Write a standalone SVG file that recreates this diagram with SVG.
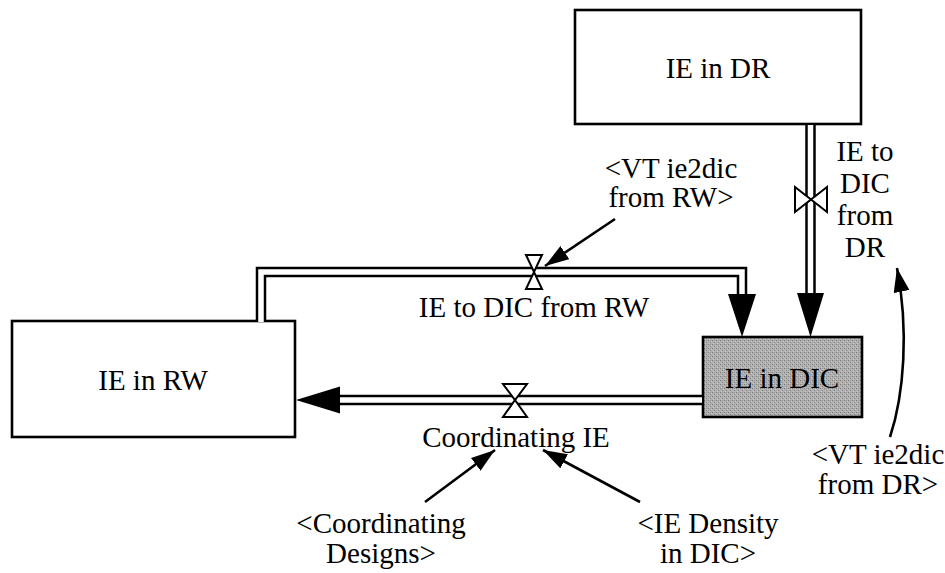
<svg xmlns="http://www.w3.org/2000/svg" width="945" height="573" viewBox="0 0 945 573">
  <style>
    .box { fill: #ffffff; stroke: #000000; stroke-width: 2.6; }
    .lbl { font-family: 'Liberation Serif', 'DejaVu Serif', 'Times New Roman', serif; font-size: 29px; fill: #000000; text-anchor: middle; }
    .pipe-outer { fill: none; stroke: #000000; stroke-width: 10.5; stroke-linejoin: miter; }
    .pipe-inner { fill: none; stroke: #ffffff; stroke-width: 5.5; stroke-linejoin: miter; }
    .valve { fill: #ffffff; stroke: #000000; stroke-width: 2; stroke-linejoin: miter; }
    .head { fill: #000000; }
    .info { fill: none; stroke: #000000; stroke-width: 2.6; marker-end: url(#arrow); }
  </style>
  <defs>
    <pattern id="stipple" width="4" height="4" patternUnits="userSpaceOnUse">
      <rect width="4" height="4" fill="#b0b0b0"/>
      <rect x="0" y="0" width="1" height="1" fill="#7c7c7c"/>
      <rect x="2" y="2" width="1" height="1" fill="#868686"/>
      <rect x="1" y="3" width="1" height="1" fill="#cacaca"/>
      <rect x="3" y="1" width="1" height="1" fill="#c2c2c2"/>
      <rect x="2" y="0" width="1" height="1" fill="#9a9a9a"/>
    </pattern>
    <marker id="arrow" markerUnits="userSpaceOnUse" markerWidth="26" markerHeight="16" refX="24" refY="8" orient="auto">
      <path d="M0,0 L24,8 L0,16 Z" fill="#000000"/>
    </marker>
  </defs>

  <!-- stocks -->
  <g id="ie-in-dr">
    <rect class="box" x="575" y="10" width="286" height="114"/>
    <text class="lbl" x="718" y="78" font-family="Liberation Serif, DejaVu Serif, serif">IE in DR</text>
  </g>
  <g id="ie-in-rw">
    <rect class="box" x="12" y="321" width="283" height="116"/>
    <text class="lbl" x="153" y="390" font-family="Liberation Serif, DejaVu Serif, serif">IE in RW</text>
  </g>
  <g id="ie-in-dic">
    <rect x="703" y="337" width="159" height="80" fill="url(#stipple)" stroke="#000000" stroke-width="2.6"/>
    <text class="lbl" x="782" y="388" font-family="Liberation Serif, DejaVu Serif, serif">IE in DIC</text>
  </g>

  <!-- flows (pipes, valves and heads) and information links -->
  <g id="connectors">
    <!-- IE to DIC from RW -->
    <polyline class="pipe-outer" points="261,322 261,272 742,272 742,296"/>
    <polyline class="pipe-inner" points="261,322 261,272 742,272 742,296"/>
    <polygon class="head" points="728,294 756,294 742,337"/>
    <!-- IE to DIC from DR -->
    <line class="pipe-outer" x1="810.5" y1="125" x2="810.5" y2="295"/>
    <line class="pipe-inner" x1="810.5" y1="125" x2="810.5" y2="295"/>
    <polygon class="head" points="797,293 824,293 810.5,337"/>
    <!-- Coordinating IE -->
    <line class="pipe-outer" x1="702" y1="400" x2="338" y2="400"/>
    <line class="pipe-inner" x1="702" y1="400" x2="338" y2="400"/>
    <polygon class="head" points="340,386.5 340,413.5 296,400"/>

    <!-- information links -->
    <line class="info" x1="615" y1="219" x2="545" y2="266"/>
    <line class="info" x1="425" y1="502" x2="495" y2="450"/>
    <line class="info" x1="640" y1="502" x2="543" y2="450"/>
    <path class="info" d="M890,437 C904,395 909,330 897,268"/>
  </g>

  <!-- valves -->
  <g id="valve-rw">
    <path class="valve" d="M526,255 L542,255 L534,272 Z M526,289 L542,289 L534,272 Z"/>
    <text class="lbl" x="534" y="317" font-family="Liberation Serif, DejaVu Serif, serif">IE to DIC from RW</text>
  </g>
  <g id="valve-dr">
    <path class="valve" d="M795,187 L795,212 L811,199.5 Z M827,187 L827,212 L811,199.5 Z"/>
    <text class="lbl" font-family="Liberation Serif, DejaVu Serif, serif"><tspan x="865" y="161">IE to</tspan><tspan x="865" y="193">DIC</tspan><tspan x="865" y="225">from</tspan><tspan x="865" y="257">DR</tspan></text>
  </g>
  <g id="valve-coord">
    <path class="valve" d="M503,384 L527,384 L515,400 Z M503,417 L527,417 L515,400 Z"/>
    <text class="lbl" x="516" y="447" font-family="Liberation Serif, DejaVu Serif, serif">Coordinating IE</text>
  </g>

  <!-- shadow variables -->
  <g id="vt-rw">
    <text class="lbl" font-family="Liberation Serif, DejaVu Serif, serif"><tspan x="671" y="178">&lt;VT ie2dic</tspan><tspan x="671" y="207">from RW&gt;</tspan></text>
  </g>
  <g id="vt-dr">
    <text class="lbl" font-family="Liberation Serif, DejaVu Serif, serif"><tspan x="878" y="464">&lt;VT ie2dic</tspan><tspan x="878" y="494">from DR&gt;</tspan></text>
  </g>
  <g id="coord-designs">
    <text class="lbl" font-family="Liberation Serif, DejaVu Serif, serif"><tspan x="381" y="533">&lt;Coordinating</tspan><tspan x="381" y="563">Designs&gt;</tspan></text>
  </g>
  <g id="ie-density">
    <text class="lbl" font-family="Liberation Serif, DejaVu Serif, serif"><tspan x="708" y="533">&lt;IE Density</tspan><tspan x="708" y="563">in DIC&gt;</tspan></text>
  </g>
</svg>
